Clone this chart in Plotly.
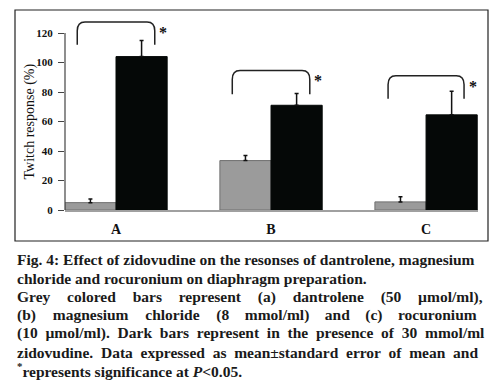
import plotly.graph_objects as go

categories = ["A", "B", "C"]
grey_values = [5, 33.5, 5.5]
grey_errors = [2.5, 3.5, 3.5]
dark_values = [104, 71, 64.5]
dark_errors = [11, 8, 16]
bracket_top = [127.5, 94.5, 91]
bracket_bottom = [112, 78.5, 75.5]
bracket_half = [0.25, 0.25, 0.245]
y_ticks = [0, 20, 40, 60, 80, 100, 120]

NB = "\u00a0"
HS = "\u200a"
caption_lines = [
    "Fig. 4: Effect of zidovudine on the resonses of dantrolene, magnesium",
    "chloride and rocuronium on diaphragm preparation.",
    "Grey colored bars represent (a) dantrolene (50 µmol/ml),",
    "(b) magnesium chloride (8 mmol/ml) and (c) rocuronium",
    "(10 µmol/ml). Dark bars represent in the presence of 30 mmol/ml",
    "zidovudine. Data expressed as mean±standard error of mean and",
    "<sup>*</sup>represents significance at <i>P</i>&lt;0.05.",
]
# (non-breaking spaces per gap, number of gaps that get an extra hair space)
caption_pad = [(0, 0), (0, 0), (3, 7), (3, 3), (1, 0), (1, 0), (0, 0)]

W, H = 500, 383
L, R, T, B = 65, 22, 12, 173
plot_w = W - L - R
plot_h = H - T - B
px_per_unit = 1.475
ymax = plot_h / px_per_unit

SERIF = "Liberation Serif"

fig = go.Figure()
fig.add_trace(go.Bar(
    x=categories, y=grey_values, name="grey",
    marker=dict(color="#9b9b9b", line=dict(color="#6f6f6f", width=1)),
    error_y=dict(type="data", array=grey_errors, arrayminus=[0] * 3, symmetric=False,
                 color="#111", thickness=1.5, width=2),
))
fig.add_trace(go.Bar(
    x=categories, y=dark_values, name="dark",
    marker=dict(color="#050807", line=dict(color="#050807", width=1)),
    error_y=dict(type="data", array=dark_errors, arrayminus=[0] * 3, symmetric=False,
                 color="#111", thickness=1.5, width=2),
))

shapes = []
shapes.append(dict(type="line", xref="paper", yref="y", x0=0, x1=0, y0=0, y1=y_ticks[-1],
                   line=dict(color="#444", width=1.2)))
for i, c in enumerate(categories):
    x0 = i - bracket_half[i]
    x1 = i + bracket_half[i]
    yt = bracket_top[i]
    yb = bracket_bottom[i]
    dx = 0.05
    dy = 6
    path = (f"M {x0},{yb} L {x0},{yt - dy} Q {x0},{yt} {x0 + dx},{yt} "
            f"L {x1 - dx},{yt} Q {x1},{yt} {x1},{yt - dy} L {x1},{yb}")
    shapes.append(dict(type="path", xref="x", yref="y", path=path,
                       line=dict(color="#222", width=1.5)))
shapes.append(dict(type="rect", xref="paper", yref="paper",
                   x0=(15 - L) / plot_w, x1=(488 - L) / plot_w,
                   y0=(H - B - 241) / plot_h, y1=(H - B - 10) / plot_h,
                   line=dict(color="#222", width=1.2), layer="below"))

annotations = []
for i, c in enumerate(categories):
    annotations.append(dict(x=i + 0.3, y=bracket_top[i] - 7, xref="x", yref="y",
                            text="<b>*</b>", showarrow=False,
                            font=dict(family=SERIF, size=16, color="#111111")))

annotations.append(dict(x=(29 - L) / plot_w, y=y_ticks[-1] / 2, xref="paper", yref="y",
                        text="Twitch response (%)", textangle=-90, showarrow=False,
                        xanchor="center", yanchor="middle",
                        font=dict(family=SERIF, size=14, color="#111")))

line_y = [259, 278, 297, 315, 333, 352, 370]
for txt, yp, (nb, hs) in zip(caption_lines, line_y, caption_pad):
    if nb or hs:
        words = txt.split(" ")
        out = words[0]
        for k, w in enumerate(words[1:]):
            out += " " + NB * nb + (HS if k < hs else "") + w
        txt = out
    annotations.append(dict(x=(15 - L) / plot_w, y=(H - B - yp) / plot_h,
                            xref="paper", yref="paper", xanchor="left", yanchor="middle",
                            text=f"<b>{txt}</b>", showarrow=False,
                            font=dict(family=SERIF, size=15.5, color="#1a1a1a")))

fig.update_layout(
    width=W, height=H,
    margin=dict(l=L, r=R, t=T, b=B),
    paper_bgcolor="white", plot_bgcolor="white",
    barmode="group", bargap=0.34, bargroupgap=0,
    showlegend=False,
    shapes=shapes, annotations=annotations,
    xaxis=dict(type="category", range=[-0.329, 2.335], showline=True,
               linecolor="#a0a0a0", linewidth=2, ticks="", showgrid=False,
               tickfont=dict(family=SERIF, size=14, color="#111", weight="bold"),
               ticklabelstandoff=5, zeroline=False),
    yaxis=dict(range=[0, ymax], tickvals=y_ticks, ticks="outside", ticklen=6,
               tickcolor="#444", showline=False, showgrid=False, zeroline=False,
               tickfont=dict(family=SERIF, size=11, color="#111", weight="bold"),
               ticklabelstandoff=3),
)

fig.write_html("out.html", config={"displayModeBar": False},
               post_script="document.body.style.margin='0';document.body.style.overflow='hidden';")
